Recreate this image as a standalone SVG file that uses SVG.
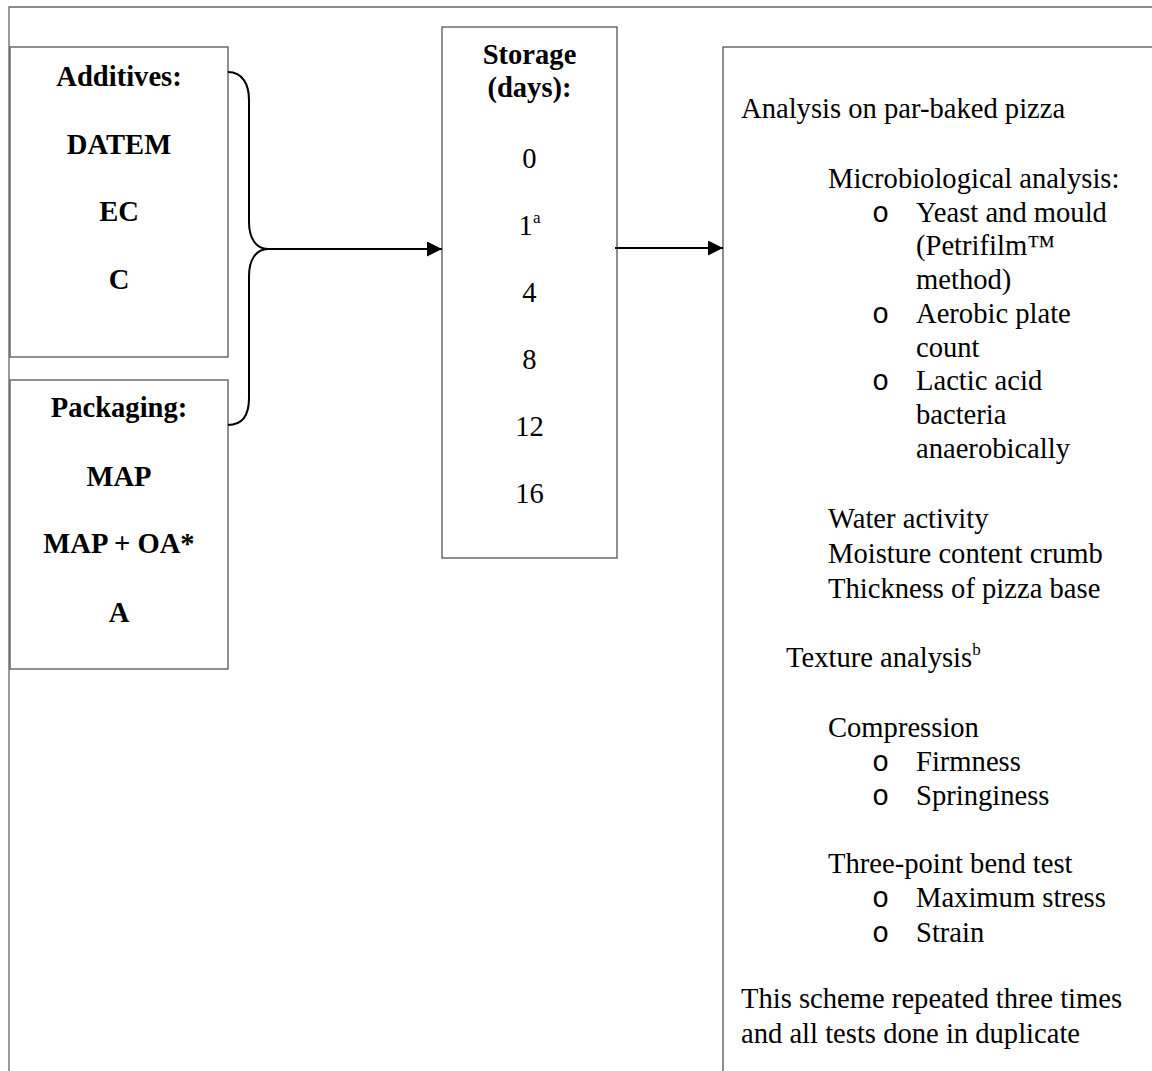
<svg xmlns="http://www.w3.org/2000/svg" width="1152" height="1071" viewBox="0 0 1152 1071">
<defs>
<marker id="ah" markerUnits="userSpaceOnUse" markerWidth="15" markerHeight="15" viewBox="0 0 15 15" refX="15" refY="7.5" orient="auto">
<path d="M0,0 L15,7.5 L0,15 Z" fill="#000"/>
</marker>
<style>
.box{fill:#fff;stroke:#555;stroke-width:1.3}
.t{font-family:"Liberation Serif","Times New Roman",serif;font-size:28.6px;fill:#000}
.b{font-weight:bold}
.c{text-anchor:middle}
.bul{font-family:"Liberation Mono","Courier New",monospace;font-size:28.6px;fill:#000}
.conn{fill:none;stroke:#000;stroke-width:2}
</style>
</defs>
<rect width="1152" height="1071" fill="#fff"/>
<path d="M9,1071 L9,7 L1152,7" fill="none" stroke="#666" stroke-width="1.3"/>
<g id="additives">
<rect class="box" x="10" y="47" width="218" height="310"/>
<text class="t b c" x="119" y="86">Additives:</text>
<text class="t b c" x="119" y="154">DATEM</text>
<text class="t b c" x="119" y="221">EC</text>
<text class="t b c" x="119" y="289">C</text>
</g>
<g id="packaging">
<rect class="box" x="10" y="380" width="218" height="289"/>
<text class="t b c" x="119" y="417">Packaging:</text>
<text class="t b c" x="119" y="486">MAP</text>
<text class="t b c" x="119" y="553">MAP + OA*</text>
<text class="t b c" x="119" y="622">A</text>
</g>
<g id="storage">
<rect class="box" x="442" y="27" width="175" height="531"/>
<text class="t b c" x="529.5" y="64">Storage</text>
<text class="t b c" x="529.5" y="97">(days):</text>
<text class="t c" x="529.5" y="168">0</text>
<text class="t c" x="529.5" y="235">1<tspan font-size="17" dy="-12">a</tspan></text>
<text class="t c" x="529.5" y="302">4</text>
<text class="t c" x="529.5" y="369">8</text>
<text class="t c" x="529.5" y="436">12</text>
<text class="t c" x="529.5" y="503">16</text>
</g>
<g id="analysis">
<rect class="box" x="723" y="47" width="500" height="1100"/>
<text class="t" x="741" y="118">Analysis on par-baked pizza</text>
<text class="t" x="828" y="188">Microbiological analysis:</text>
<text class="bul" x="872" y="222">o</text>
<text class="t" x="916" y="222">Yeast and mould</text>
<text class="t" x="916" y="255">(Petrifilm™</text>
<text class="t" x="916" y="289">method)</text>
<text class="bul" x="872" y="323">o</text>
<text class="t" x="916" y="323">Aerobic plate</text>
<text class="t" x="916" y="357">count</text>
<text class="bul" x="872" y="390">o</text>
<text class="t" x="916" y="390">Lactic acid</text>
<text class="t" x="916" y="424">bacteria</text>
<text class="t" x="916" y="458">anaerobically</text>
<text class="t" x="828" y="528">Water activity</text>
<text class="t" x="828" y="563">Moisture content crumb</text>
<text class="t" x="828" y="598">Thickness of pizza base</text>
<text class="t" x="786" y="667">Texture analysis<tspan font-size="17" dy="-12">b</tspan></text>
<text class="t" x="828" y="737">Compression</text>
<text class="bul" x="872" y="771">o</text>
<text class="t" x="916" y="771">Firmness</text>
<text class="bul" x="872" y="805">o</text>
<text class="t" x="916" y="805">Springiness</text>
<text class="t" x="828" y="873">Three-point bend test</text>
<text class="bul" x="872" y="907">o</text>
<text class="t" x="916" y="907">Maximum stress</text>
<text class="bul" x="872" y="942">o</text>
<text class="t" x="916" y="942">Strain</text>
<text class="t" x="741" y="1008">This scheme repeated three times</text>
<text class="t" x="741" y="1043">and all tests done in duplicate</text>
</g>
<g id="connectors">
<path class="conn" stroke-width="1.6" d="M228,72 C243,72 249,85 249,100 L249,222 C249,238 256,249 268,249 C256,249 249,260 249,276 L249,398 C249,414 243,425 228,425"/>
<path class="conn" d="M268,249 L442,249" marker-end="url(#ah)"/>
<path class="conn" d="M615,248 L723,248" marker-end="url(#ah)"/>
</g>
</svg>
